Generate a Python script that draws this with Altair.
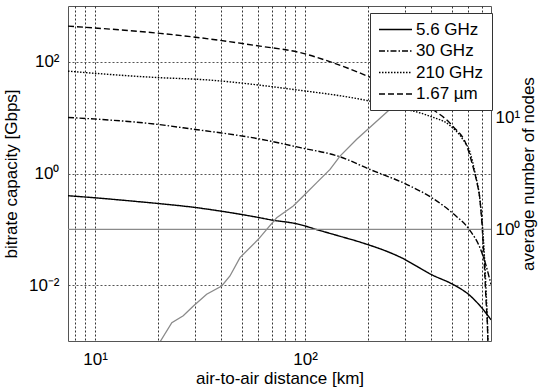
import altair as alt
import pandas as pd

# ---- data ----
series = ["5.6 GHz", "30 GHz", "210 GHz", "1.67 µm"]

dist_5g6 = [7.43, 10, 16.4, 20, 30, 40, 60, 70, 91, 118, 147, 183, 283, 407, 507, 611, 704, 769]
cap_5g6 = [0.40, 0.367, 0.311, 0.29, 0.246, 0.211, 0.163, 0.146, 0.126, 0.095, 0.075, 0.059,
           0.032, 0.015, 0.0103, 0.0065, 0.0037, 0.0024]

dist_30g = [7.43, 20, 30, 39.4, 59, 95, 147, 204, 306, 407, 507, 611, 681, 728, 769]
cap_30g = [10.1, 7.55, 6.15, 5.36, 4.24, 2.9, 1.99, 1.18, 0.635, 0.357, 0.192, 0.095, 0.047, 0.0225, 0.0103]

dist_210g = [7.43, 20.4, 31.6, 88, 197, 262, 394, 490, 565, 611, 645, 681, 704, 728, 743, 750]
cap_210g = [68, 52, 48.4, 32, 20.3, 15.9, 10.6, 7.25, 4.07, 2.38, 1.04, 0.342, 0.088, 0.0083, 0.001, 0.0001]

dist_167 = [7.43, 20.4, 31.6, 39.4, 61, 95, 136, 200, 394, 507, 591, 631, 659, 681, 704, 728, 743, 750]
cap_167 = [436, 323, 270, 242, 191, 146, 96, 54.7, 15.2, 6.95, 3.05, 1.33, 0.69, 0.342, 0.066, 0.0055, 0.001, 0.0001]

dist_nodes = [20.0, 20.5, 23.2, 26.3, 29.4, 34.0, 40.1, 43.9, 49.0, 59.9, 65.7, 73.3, 87.9, 98.2,
              113.7, 131.6, 146.8, 176.3, 262.6, 393.7, 546.5, 751.6, 769]
avg_nodes = [0.095, 0.1, 0.146, 0.168, 0.206, 0.262, 0.311, 0.382, 0.558, 0.814, 1.0, 1.27, 1.62, 1.99,
             2.62, 3.44, 4.53, 6.40, 12.6, 22.9, 35.4, 51.3, 52.0]

one_node = [1.0]

x_ticks = [8, 9, 10, 20, 30, 40, 50, 60, 70, 80, 90, 100, 200, 300, 400, 500, 600, 700]
y_ticks = [0.01, 1, 100]
y2_ticks = [1, 10]

# ---- tables ----
rows = []
for name, d, c in zip(series, [dist_5g6, dist_30g, dist_210g, dist_167],
                      [cap_5g6, cap_30g, cap_210g, cap_167]):
    for i, (xv, yv) in enumerate(zip(d, c)):
        rows.append({"series": name, "dist": xv, "cap": yv, "order": i})
curves = pd.DataFrame(rows)
nodes_df = pd.DataFrame({"dist": dist_nodes, "nodes": avg_nodes})
rule_df = pd.DataFrame({"nodes": one_node})

FONT = "Liberation Sans"
xscale = alt.Scale(type="log", domain=[7.43, 769], nice=False)
y2scale = alt.Scale(type="log", domain=[0.1, 100], nice=False)

x_axis = alt.Axis(values=x_ticks,
                  labelExpr="datum.value == 10 ? '10¹' : (datum.value == 100 ? '10²' : '')",
                  title="air-to-air distance [km]", grid=True, gridDash=[2, 2],
                  gridColor="#333333", gridOpacity=1, ticks=False, domain=False,
                  labelPadding=10, titlePadding=3, labelFlush=False)
y2_axis = alt.Axis(orient="right", values=y2_ticks,
                   labelExpr="datum.value == 1 ? '10⁰' : '10¹'",
                   title="average number of nodes", grid=False, ticks=False,
                   domain=False, labelPadding=4, titlePadding=1, titleAngle=270,
                   titleBaseline="top")

left = alt.Chart(curves).mark_line(color="black", strokeWidth=1.4, clip=True,
                                   interpolate="monotone").encode(
    x=alt.X("dist:Q", scale=xscale, axis=x_axis),
    y=alt.Y("cap:Q", scale=alt.Scale(type="log", domain=[1e-3, 1e3], nice=False),
            axis=alt.Axis(values=y_ticks,
                          labelExpr="datum.value == 0.01 ? '10⁻²' : (datum.value == 1 ? '10⁰' : '10²')",
                          title="bitrate capacity [Gbps]", grid=True, gridDash=[2, 2],
                          gridColor="#555555", gridOpacity=1, ticks=False, domain=False,
                          labelPadding=9, titlePadding=8)),
    strokeDash=alt.StrokeDash("series:N",
                              scale=alt.Scale(domain=series,
                                              range=[[1, 0], [6, 2, 1.5, 2], [1.5, 1.5], [6, 3]]),
                              legend=alt.Legend(title=None, orient="none", legendX=302, legendY=7,
                                                fillColor="white", strokeColor="#333333",
                                                padding=8, symbolType="M-3,0H3", symbolSize=121,
                                                symbolOffset=9,
                                                symbolStrokeWidth=1.4, symbolStrokeColor="black",
                                                labelFontSize=17, labelFont=FONT, labelOffset=12,
                                                rowPadding=3.5, labelColor="black")),
    order="order:Q",
)

gray_line = alt.Chart(nodes_df).mark_line(color="#8a8a8a", strokeWidth=1.3, clip=True).encode(
    x=alt.X("dist:Q", scale=xscale, axis=x_axis),
    y=alt.Y("nodes:Q", scale=y2scale, axis=y2_axis),
)
gray_rule = alt.Chart(rule_df).mark_rule(color="#8a8a8a", strokeWidth=1.3).encode(
    y=alt.Y("nodes:Q", scale=y2scale, axis=y2_axis),
)
right = alt.layer(gray_rule, gray_line)

chart = alt.layer(left, right).resolve_scale(y="independent").properties(
    width=423, height=335,
    autosize=alt.AutoSizeParams(type="none"),
    padding={"left": 68, "top": 6, "right": 47, "bottom": 51},
    background="white",
).configure_view(stroke="#555555", strokeWidth=1).configure_axis(
    labelFont=FONT, labelFontSize=17, labelColor="black",
    titleFont=FONT, titleFontSize=17, titleFontWeight="normal", titleColor="black",
)

chart.save("out.html", embed_options={"renderer": "svg", "actions": False})
